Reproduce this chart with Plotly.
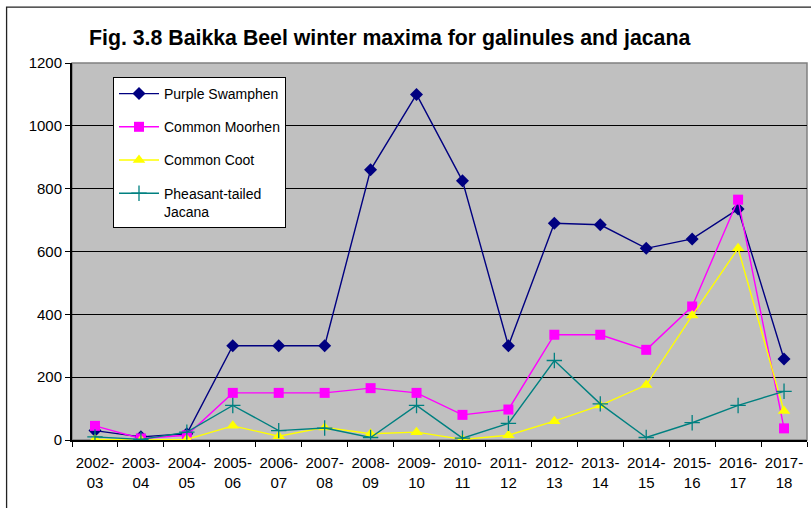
import plotly.graph_objects as go

# Winter seasons (Oct–Mar) covered by the counts
seasons = ["2002-03", "2003-04", "2004-05", "2005-06", "2006-07", "2007-08",
           "2008-09", "2009-10", "2010-11", "2011-12", "2012-13", "2013-14",
           "2014-15", "2015-16", "2016-17", "2017-18"]
season_labels = [s.replace("-", "-<br>") for s in seasons]

# Winter maxima (birds counted)
purple_swamphen = [30, 10, 20, 300, 300, 300, 860, 1100, 825, 300, 690, 685, 610, 640, 735, 258]
common_moorhen = [45, 5, 15, 150, 150, 150, 165, 150, 80, 97, 335, 335, 287, 425, 765, 37]
common_coot = [2, 0, 2, 45, 12, 40, 20, 25, 2, 15, 60, 110, 175, 396, 610, 92]
jacana = [10, 2, 25, 110, 30, 38, 8, 110, 6, 53, 253, 115, 8, 55, 110, 155]

FONT = "Liberation Sans, Arial, sans-serif"

series = [
    ("Purple Swamphen", purple_swamphen, "#000080", "diamond", 10),
    ("Common Moorhen", common_moorhen, "#FF00FF", "square", 10),
    ("Common Coot", common_coot, "#FFFF00", "triangle-up", 11),
    ("Pheasant-tailed<br>Jacana", jacana, "#008080", "cross-thin", 11),
]

fig = go.Figure()
for i, (name, vals, color, symbol, size) in enumerate(series):
    marker = dict(symbol=symbol, size=size, color=color)
    if symbol == "cross-thin":
        marker["line"] = dict(color=color, width=1.3)
    fig.add_trace(go.Scatter(
        x=seasons, y=vals, name=name, mode="lines+markers",
        line=dict(color=color, width=1.4), marker=marker,
        legendgroup=f"g{i}",
    ))

# plot-area frame (grey on top/right) and outer chart border
fig.add_shape(type="rect", xref="paper", yref="paper", x0=0, x1=1, y0=0, y1=1,
              line=dict(color="#808080", width=1.5), layer="below")
fig.add_shape(type="rect", xref="paper", yref="paper",
              x0=-0.089, x1=1.02, y0=-0.21, y1=1.148,
              line=dict(color="#222222", width=1.3))

fig.update_layout(
    width=811, height=508,
    margin=dict(l=72, r=4, t=63, b=68, autoexpand=False),
    paper_bgcolor="white", plot_bgcolor="#C0C0C0",
    font=dict(family=FONT, size=15, color="black"),
    title=dict(
        text="<b>Fig. 3.8 Baikka Beel winter maxima for galinules and jacana</b>",
        font=dict(family=FONT, size=21.3, color="black"),
        xref="container", yref="container",
        x=89 / 811, xanchor="left", y=1 - 38 / 508, yanchor="middle",
    ),
    showlegend=True,
    legend=dict(
        x=(113 - 72) / 735, y=(440 - 77) / 377, xanchor="left", yanchor="top",
        bgcolor="white", bordercolor="black", borderwidth=1,
        font=dict(family=FONT, size=14, color="black"),
        tracegroupgap=12, itemwidth=40, valign="top",
    ),
    xaxis=dict(
        type="category", categoryorder="array", categoryarray=seasons,
        tickvals=seasons, ticktext=season_labels,
        range=[-0.5, len(seasons) - 0.5],
        showline=True, linecolor="black", linewidth=2,
        ticks="outside", tickson="boundaries", ticklen=5, tickcolor="black",
        ticklabelstandoff=8, tickangle=0, automargin=False,
        showgrid=False, zeroline=False,
        tickfont=dict(family=FONT, size=15),
    ),
    yaxis=dict(
        range=[0, 1200], dtick=200, tick0=0,
        showline=True, linecolor="black", linewidth=2,
        ticks="outside", ticklen=5, tickcolor="black",
        showgrid=True, gridcolor="black", gridwidth=1,
        zeroline=False, automargin=False,
        tickfont=dict(family=FONT, size=15),
    ),
)

fig.write_html("out.html")
